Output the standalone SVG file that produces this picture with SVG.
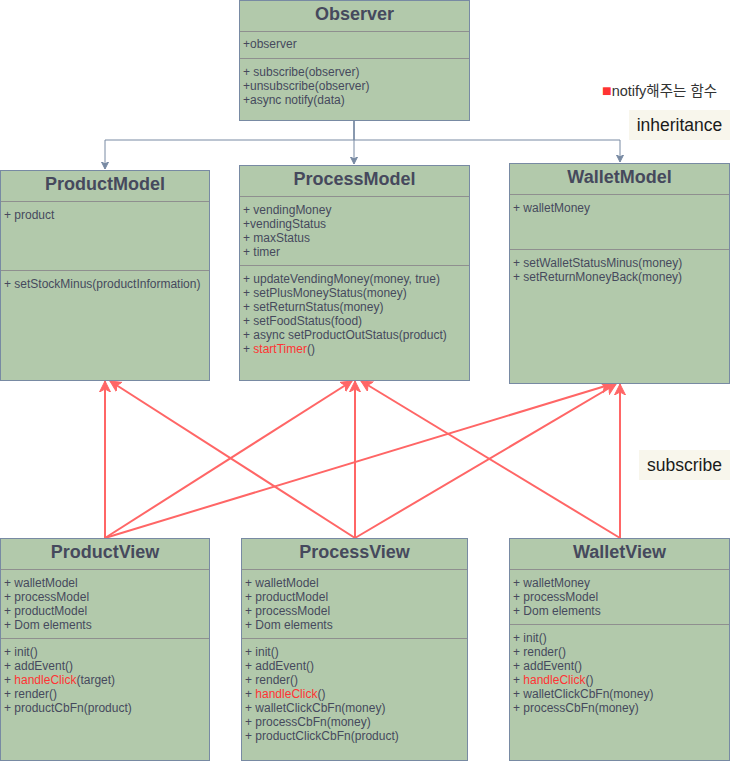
<svg xmlns="http://www.w3.org/2000/svg" width="730" height="761" viewBox="0 0 730 761">
<defs>
<style>
.box{fill:#B2C9AB;stroke:#788AA3;stroke-width:1}
.div{stroke:#8F8F8F;stroke-width:1}
.title{font-family:"Liberation Sans",Arial,sans-serif;font-size:18px;font-weight:bold;fill:#46495D;text-anchor:middle}
.t{font-family:"Liberation Sans",Arial,sans-serif;font-size:12px;fill:#46495D}
.red{fill:#FF3333}
.inh{fill:none;stroke:#788AA3;stroke-width:1}
.sub{fill:none;stroke:#FF6666;stroke-width:2}
.lbl{font-family:"Liberation Sans",Arial,sans-serif;font-size:17.5px;fill:#1A1A1A;text-anchor:middle}
.lblbg{fill:#F8F6EC}
</style>
<marker id="ah" markerUnits="userSpaceOnUse" markerWidth="10" markerHeight="10" refX="7" refY="4" orient="auto">
<path d="M0,0.5 L7,4 L0,7.5 L1.8,4 z" fill="#788AA3" stroke="#788AA3" stroke-width="1"/>
</marker>
<marker id="rh" markerUnits="userSpaceOnUse" markerWidth="14" markerHeight="14" refX="11" refY="6" orient="auto">
<path d="M0,0.5 L11,6 L0,11.5 L3,6 z" fill="#FF6666" stroke="#FF6666" stroke-width="1"/>
</marker>
</defs>

<g id="connectors">
<path class="inh" d="M354,120 V140 H105 V169" marker-end="url(#ah)"/>
<path class="inh" d="M354,120 V164" marker-end="url(#ah)"/>
<path class="inh" d="M354,120 V140 H620 V162" marker-end="url(#ah)"/>
<line class="sub" x1="105" y1="538" x2="105" y2="381" marker-end="url(#rh)"/>
<line class="sub" x1="105" y1="538" x2="352" y2="381" marker-end="url(#rh)"/>
<line class="sub" x1="105" y1="538" x2="612" y2="384" marker-end="url(#rh)"/>
<line class="sub" x1="355" y1="538" x2="110" y2="381" marker-end="url(#rh)"/>
<line class="sub" x1="355" y1="538" x2="355" y2="381" marker-end="url(#rh)"/>
<line class="sub" x1="355" y1="538" x2="616" y2="384" marker-end="url(#rh)"/>
<line class="sub" x1="620" y1="538" x2="361" y2="381" marker-end="url(#rh)"/>
<line class="sub" x1="620" y1="538" x2="620" y2="384" marker-end="url(#rh)"/>
</g>

<g id="Observer">
<rect class="box" x="239.5" y="0.5" width="230" height="120"/>
<line class="div" x1="240" y1="31.5" x2="469" y2="31.5"/>
<line class="div" x1="240" y1="58.5" x2="469" y2="58.5"/>
<text class="title" x="354.5" y="20">Observer</text>
<text class="t" x="243" y="48">+observer</text>
<text class="t" x="243" y="76">+ subscribe(observer)</text>
<text class="t" x="243" y="90">+unsubscribe(observer)</text>
<text class="t" x="243" y="104">+async notify(data)</text>
</g>

<g id="legend">
<text x="602" y="95.5" style="font-family:'Liberation Sans','Noto Sans CJK KR',sans-serif;font-size:14.5px;fill:#333333"><tspan fill="#FF3333" font-size="16px">■</tspan>notify해주는 함수</text>
</g>

<g id="label-inheritance">
<rect class="lblbg" x="629" y="110" width="101" height="30"/>
<text class="lbl" x="679.5" y="131">inheritance</text>
</g>

<g id="label-subscribe">
<rect class="lblbg" x="639" y="450" width="91" height="30"/>
<text class="lbl" x="684.5" y="471">subscribe</text>
</g>

<g id="ProductModel">
<rect class="box" x="0.5" y="170.5" width="209" height="210"/>
<line class="div" x1="1" y1="201.5" x2="209" y2="201.5"/>
<line class="div" x1="1" y1="270.5" x2="209" y2="270.5"/>
<text class="title" x="105" y="190">ProductModel</text>
<text class="t" x="4" y="219">+ product</text>
<text class="t" x="4" y="288">+ setStockMinus(productInformation)</text>
</g>

<g id="ProcessModel">
<rect class="box" x="239.5" y="165.5" width="230" height="215"/>
<line class="div" x1="240" y1="196.5" x2="469" y2="196.5"/>
<line class="div" x1="240" y1="265.5" x2="469" y2="265.5"/>
<text class="title" x="354.5" y="185">ProcessModel</text>
<text class="t" x="243" y="214">+ vendingMoney</text>
<text class="t" x="243" y="228">+vendingStatus</text>
<text class="t" x="243" y="242">+ maxStatus</text>
<text class="t" x="243" y="256">+ timer</text>
<text class="t" x="243" y="283">+ updateVendingMoney(money, true)</text>
<text class="t" x="243" y="297">+ setPlusMoneyStatus(money)</text>
<text class="t" x="243" y="311">+ setReturnStatus(money)</text>
<text class="t" x="243" y="325">+ setFoodStatus(food)</text>
<text class="t" x="243" y="339">+ async setProductOutStatus(product)</text>
<text class="t" x="243" y="353">+ <tspan class="red">startTimer</tspan>()</text>
</g>

<g id="WalletModel">
<rect class="box" x="509.5" y="163.5" width="220" height="220"/>
<line class="div" x1="510" y1="194.5" x2="729" y2="194.5"/>
<line class="div" x1="510" y1="249.5" x2="729" y2="249.5"/>
<text class="title" x="619.5" y="183">WalletModel</text>
<text class="t" x="513" y="212">+ walletMoney</text>
<text class="t" x="513" y="267">+ setWalletStatusMinus(money)</text>
<text class="t" x="513" y="281">+ setReturnMoneyBack(money)</text>
</g>

<g id="ProductView">
<rect class="box" x="0.5" y="538.5" width="209" height="222"/>
<line class="div" x1="1" y1="569.5" x2="209" y2="569.5"/>
<line class="div" x1="1" y1="638.5" x2="209" y2="638.5"/>
<text class="title" x="105" y="558">ProductView</text>
<text class="t" x="4" y="587">+ walletModel</text>
<text class="t" x="4" y="601">+ processModel</text>
<text class="t" x="4" y="615">+ productModel</text>
<text class="t" x="4" y="629">+ Dom elements</text>
<text class="t" x="4" y="656">+ init()</text>
<text class="t" x="4" y="670">+ addEvent()</text>
<text class="t" x="4" y="684">+ <tspan class="red">handleClick</tspan>(target)</text>
<text class="t" x="4" y="698">+ render()</text>
<text class="t" x="4" y="712">+ productCbFn(product)</text>
</g>

<g id="ProcessView">
<rect class="box" x="241.5" y="538.5" width="226" height="222"/>
<line class="div" x1="242" y1="569.5" x2="467" y2="569.5"/>
<line class="div" x1="242" y1="638.5" x2="467" y2="638.5"/>
<text class="title" x="354.5" y="558">ProcessView</text>
<text class="t" x="245" y="587">+ walletModel</text>
<text class="t" x="245" y="601">+ productModel</text>
<text class="t" x="245" y="615">+ processModel</text>
<text class="t" x="245" y="629">+ Dom elements</text>
<text class="t" x="245" y="656">+ init()</text>
<text class="t" x="245" y="670">+ addEvent()</text>
<text class="t" x="245" y="684">+ render()</text>
<text class="t" x="245" y="698">+ <tspan class="red">handleClick</tspan>()</text>
<text class="t" x="245" y="712">+ walletClickCbFn(money)</text>
<text class="t" x="245" y="726">+ processCbFn(money)</text>
<text class="t" x="245" y="740">+ productClickCbFn(product)</text>
</g>

<g id="WalletView">
<rect class="box" x="509.5" y="538.5" width="220" height="222"/>
<line class="div" x1="510" y1="569.5" x2="729" y2="569.5"/>
<line class="div" x1="510" y1="624.5" x2="729" y2="624.5"/>
<text class="title" x="619.5" y="558">WalletView</text>
<text class="t" x="513" y="587">+ walletMoney</text>
<text class="t" x="513" y="601">+ processModel</text>
<text class="t" x="513" y="615">+ Dom elements</text>
<text class="t" x="513" y="642">+ init()</text>
<text class="t" x="513" y="656">+ render()</text>
<text class="t" x="513" y="670">+ addEvent()</text>
<text class="t" x="513" y="684">+ <tspan class="red">handleClick</tspan>()</text>
<text class="t" x="513" y="698">+ walletClickCbFn(money)</text>
<text class="t" x="513" y="712">+ processCbFn(money)</text>
</g>
</svg>
